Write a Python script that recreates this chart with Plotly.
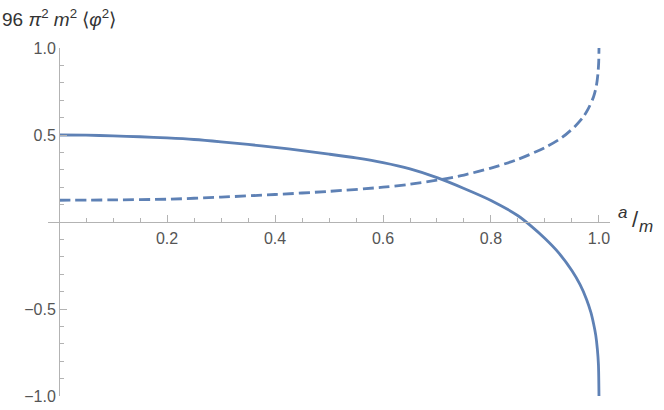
import plotly.graph_objects as go

# values
a_solid = [0, 0.05, 0.1, 0.15, 0.2, 0.25, 0.3, 0.35, 0.4, 0.45, 0.5, 0.55, 0.6, 0.65,
           0.7, 0.75, 0.8, 0.85, 0.875, 0.9, 0.925, 0.95, 0.965, 0.977, 0.985, 0.99,
           0.994, 0.997, 0.999, 1.0]
phi_solid = [0.5, 0.499, 0.495, 0.49, 0.483, 0.474, 0.461, 0.446, 0.429, 0.41, 0.39,
             0.368, 0.341, 0.305, 0.255, 0.193, 0.124, 0.036, -0.025, -0.095, -0.176,
             -0.28, -0.36, -0.445, -0.52, -0.585, -0.65, -0.73, -0.82, -1.0]

a_dashed = [0, 0.1, 0.2, 0.3, 0.4, 0.5, 0.6, 0.65, 0.7, 0.75, 0.8, 0.85, 0.9, 0.93,
            0.955, 0.97, 0.98, 0.99, 0.995, 0.998, 0.9995, 1.0]
phi_dashed = [0.125, 0.127, 0.131, 0.143, 0.158, 0.176, 0.2, 0.217, 0.24, 0.27, 0.31,
              0.36, 0.428, 0.482, 0.548, 0.6, 0.65, 0.72, 0.78, 0.85, 0.92, 1.0]

x_ticks = [0.2, 0.4, 0.6, 0.8, 1.0]
x_labels = ["0.2", "0.4", "0.6", "0.8", "1.0"]
y_ticks = [-1.0, -0.5, 0.5, 1.0]
y_labels = ["\u22121.0", "\u22120.5", "0.5", "1.0"]

W, H = 664, 410
L, R, T, B = 48, 54, 48, 14
line_color = "#5E81B5"
axis_color = "#b3b3b3"
label_color = "#555555"
font = "Liberation Sans, Arial, sans-serif"


def px(x, y):
    # pixel position -> paper coordinates
    return (x - L) / (W - L - R), (H - B - y) / (H - T - B)


fig = go.Figure()
fig.add_trace(go.Scatter(x=a_solid, y=phi_solid, mode="lines",
                         line=dict(color=line_color, width=2.8, shape="spline", smoothing=0.8)))
fig.add_trace(go.Scatter(x=a_dashed, y=phi_dashed, mode="lines",
                         line=dict(color=line_color, width=2.8, dash="11px,5px",
                                   shape="spline", smoothing=0.8)))

axis_common = dict(
    showgrid=False, zeroline=False, showline=True, linecolor=axis_color, linewidth=1,
    ticks="inside", ticklen=7, tickcolor=axis_color, tickwidth=1,
    tickfont=dict(family=font, size=16, color=label_color),
    anchor="free", tickmode="array", automargin=False,
)

x0_paper, _ = px(59, 0)
fig.update_layout(
    width=W, height=H,
    margin=dict(l=L, r=R, t=T, b=B),
    plot_bgcolor="white", paper_bgcolor="white",
    showlegend=False,
    xaxis=dict(range=[-0.0204, 1.0204], tickvals=x_ticks, ticktext=x_labels,
               position=0.5, ticklabelstandoff=2,
               minor=dict(dtick=0.05, tick0=0, ticklen=4, tickcolor=axis_color, ticks="inside"),
               **axis_common),
    yaxis=dict(range=[-1.0, 1.0], tickvals=y_ticks, ticktext=y_labels,
               position=x0_paper, ticklabelstandoff=0,
               minor=dict(dtick=0.1, tick0=0, ticklen=4, tickcolor=axis_color, ticks="inside"),
               **axis_common),
)

# axis labels
tx, ty = px(0, 18)
fig.add_annotation(x=tx, y=ty, xref="paper", yref="paper", xanchor="left", yanchor="middle",
                   showarrow=False,
                   text="96 <i>\u03c0</i><sup>2</sup> <i>m</i><sup>2</sup> "
                        "\u27e8<i>\u03c6</i><sup>2</sup>\u27e9",
                   font=dict(family=font, size=19, color="#333333"))
ax_, ay_ = px(629, 212)
fig.add_annotation(x=ax_, y=ay_, xref="paper", yref="paper", showarrow=False,
                   text="<i>a</i>", font=dict(family=font, size=17, color="#333333"))
sx, sy = px(641, 219)
fig.add_annotation(x=sx, y=sy, xref="paper", yref="paper", showarrow=False,
                   text="/", font=dict(family=font, size=22, color="#333333"))
mx, my = px(655, 226)
fig.add_annotation(x=mx, y=my, xref="paper", yref="paper", showarrow=False,
                   text="<i>m</i>", font=dict(family=font, size=17, color="#333333"))

# drop the browser's default body margin so the figure sits at the page corner
fig.write_html("out.html", config={"displayModeBar": False},
               post_script="document.body.style.margin = '0';")
